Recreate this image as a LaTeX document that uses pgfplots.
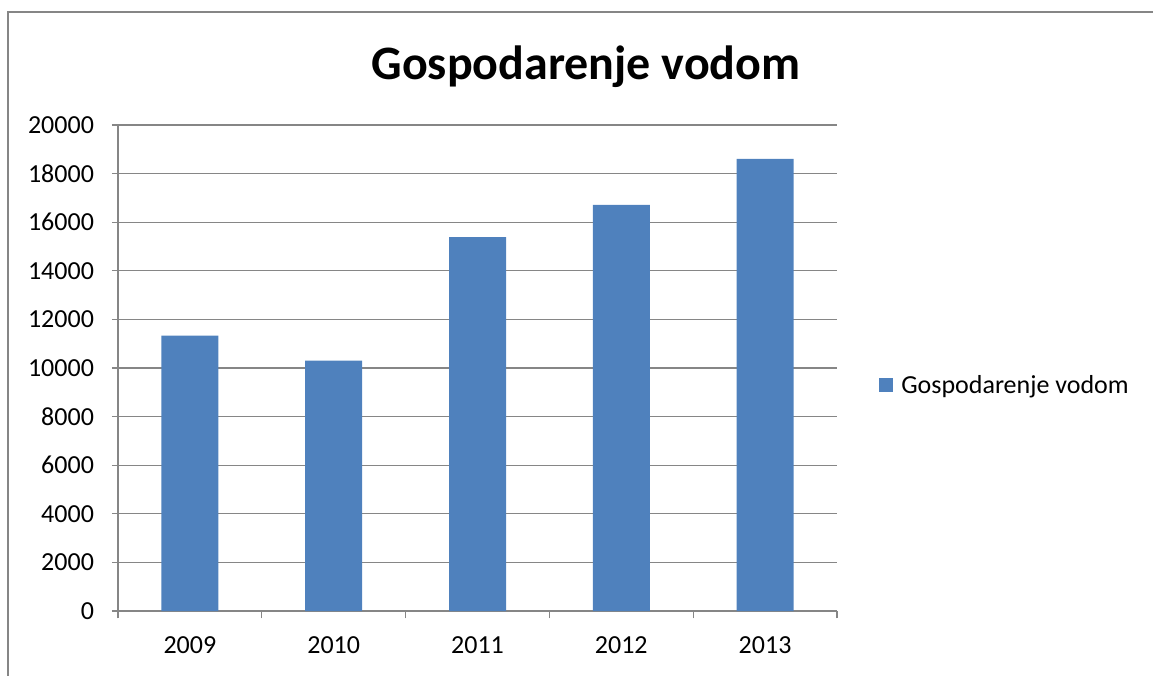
\documentclass[border=0pt]{standalone}
\usepackage{pgfplots}
\pgfplotsset{compat=1.18}
\usepackage{fontspec}
\setmainfont{Carlito}
\definecolor{barblue}{RGB}{79,129,189}
\definecolor{gridgray}{RGB}{134,134,134}
\begin{document}
\begin{tikzpicture}[x=1pt,y=1pt]
\useasboundingbox (0,0) rectangle (864.75,506.25);
\draw[gridgray, line width=0.9pt] (6,-10) -- (6,497.25) -- (875,497.25);
\begin{axis}[
  at={(88.5pt,48pt)}, anchor=south west,
  scale only axis, width=539.25pt, height=364.5pt,
  xmin=-0.5, xmax=4.5, ymin=0, ymax=20000,
  axis lines*=left,
  axis line style={gridgray, line width=0.9pt},
  xtick={0,1,2,3,4},
  xticklabels={2009,2010,2011,2012,2013},
  minor xtick={-0.5,0.5,1.5,2.5,3.5,4.5},
  ytick={0,2000,...,20000},
  ymajorgrids,
  grid style={gridgray, line width=0.9pt},
  major x tick style={draw=none},
  minor tick length=5.5pt,
  major tick length=4.5pt,
  tick align=outside,
  tick style={gridgray, line width=0.9pt},
  ticklabel style={font=\fontsize{19.5}{21}\selectfont, text=black},
  xticklabel style={yshift=-11pt},
  yticklabel style={xshift=-10pt},
  scaled y ticks=false,
  yticklabel={\pgfmathprintnumber[fixed,precision=0,1000 sep={}]{\tick}},
  /pgf/number format/assume math mode=true,
  legend style={at={(axis description cs:1,0.465)}, anchor=west, xshift=31.5pt, draw=none, fill=none,
    font=\fontsize{19.5}{21}\selectfont, inner sep=0pt, column sep=4pt, cells={anchor=west}},
  legend image code/.code={\fill[barblue] (0pt,-5.25pt) rectangle (10.5pt,5.25pt);},
]
\addplot[ybar, bar width=42.75pt, fill=barblue, draw=none] coordinates {
  (0,11335) (1,10308) (2,15384) (3,16715) (4,18604)
};
\addlegendentry{Gospodarenje vodom}
\end{axis}
\node[font=\fontsize{36}{42}\selectfont\bfseries] at (439.5,456) {Gospodarenje vodom};
\end{tikzpicture}
\end{document}
